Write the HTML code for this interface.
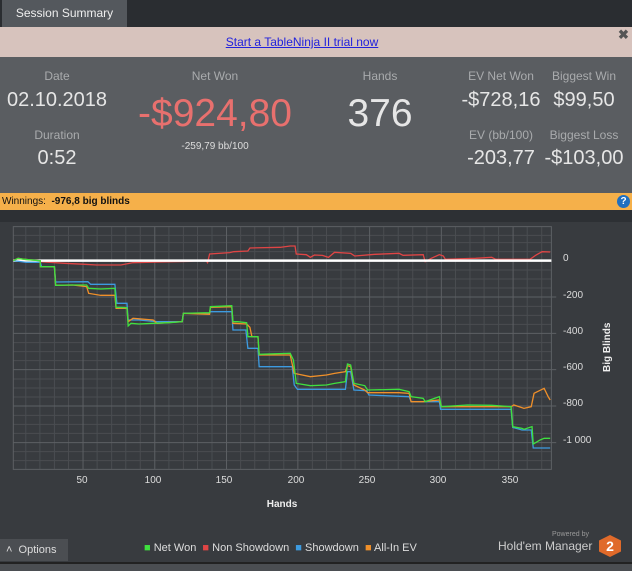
<!DOCTYPE html>
<html><head><meta charset="utf-8"><style>
*{margin:0;padding:0;box-sizing:border-box}
body{width:632px;height:571px;overflow:hidden;background:#383b3f;font-family:"Liberation Sans",sans-serif;position:relative}
.a{position:absolute;white-space:nowrap}
.c{transform:translateX(-50%)}
.lab{color:#a9abad;font-size:12px}
.val{color:#e6e6e6;font-size:20px}
</style></head><body>
<div class="a" style="left:0;top:0;width:632px;height:27px;background:#2a2d31"></div>
<div class="a" style="left:2px;top:0;width:125px;height:27px;background:#54585d;color:#eee;font-size:12px;line-height:26px;text-align:center">Session Summary</div>
<div class="a" style="left:0;top:27px;width:632px;height:30px;background:#d7c3bd"></div>
<div class="a c" style="left:302px;top:35px;color:#2222dd;font-size:12px;text-decoration:underline">Start a TableNinja II trial now</div>
<div class="a" style="left:618px;top:27px;color:#555;font-size:13px;font-weight:bold">✖</div>
<div class="a" style="left:0;top:57px;width:632px;height:136px;background:#5a5d61"></div>
<div class="a c lab" style="left:57px;top:69px">Date</div>
<div class="a c val" style="left:57px;top:89px">02.10.2018</div>
<div class="a c lab" style="left:57px;top:128px">Duration</div>
<div class="a c val" style="left:57px;top:147px">0:52</div>
<div class="a c lab" style="left:215px;top:69px">Net Won</div>
<div class="a c" style="left:215px;top:92px;color:#e8706e;font-size:39px">-$924,80</div>
<div class="a c" style="left:215px;top:141px;color:#ddd;font-size:10px">-259,79 bb/100</div>
<div class="a c lab" style="left:380px;top:69px">Hands</div>
<div class="a c" style="left:380px;top:92px;color:#e6e6e6;font-size:39px">376</div>
<div class="a c lab" style="left:501px;top:69px">EV Net Won</div>
<div class="a c val" style="left:501px;top:89px">-$728,16</div>
<div class="a c lab" style="left:501px;top:128px">EV (bb/100)</div>
<div class="a c val" style="left:501px;top:147px">-203,77</div>
<div class="a c lab" style="left:584px;top:69px">Biggest Win</div>
<div class="a c val" style="left:584px;top:89px">$99,50</div>
<div class="a c lab" style="left:584px;top:128px">Biggest Loss</div>
<div class="a c val" style="left:584px;top:147px">-$103,00</div>
<div class="a" style="left:0;top:193px;width:632px;height:17px;background:#f5b04a;font-size:10px;line-height:17px;padding-left:2px;color:#111">Winnings: &nbsp;<b>-976,8 big blinds</b></div>
<div class="a" style="left:617px;top:195px;width:13px;height:13px;border-radius:50%;background:#1f6fc0;color:#fff;font-size:10px;font-weight:bold;text-align:center;line-height:13px">?</div>
<div class="a" style="left:0;top:210px;width:632px;height:12px;background:#2d3034"></div>
<svg class="a" style="left:0;top:220px" width="632" height="351" viewBox="0 0 1568 1053" preserveAspectRatio="none">
<g stroke="#4a4d51" stroke-width="1" vector-effect="non-scaling-stroke">
<path vector-effect="non-scaling-stroke" d="M64 20V748M99 20V748M135 20V748M170 20V748M241 20V748M277 20V748M312 20V748M348 20V748M419 20V748M455 20V748M490 20V748M526 20V748M597 20V748M632 20V748M668 20V748M704 20V748M775 20V748M810 20V748M846 20V748M881 20V748M952 20V748M988 20V748M1024 20V748M1059 20V748M1130 20V748M1166 20V748M1201 20V748M1237 20V748M1308 20V748M1344 20V748"/>
<path vector-effect="non-scaling-stroke" d="M33 46H1368M33 68H1368M33 95H1368M33 150H1368M33 177H1368M33 204H1368M33 259H1368M33 286H1368M33 313H1368M33 368H1368M33 395H1368M33 422H1368M33 477H1368M33 504H1368M33 531H1368M33 586H1368M33 613H1368M33 640H1368M33 695H1368M33 722H1368"/>
</g>
<g stroke="#5d6064" fill="none">
<path vector-effect="non-scaling-stroke" d="M206 20V748M384 20V748M562 20V748M739 20V748M917 20V748M1095 20V748M1273 20V748M33 231H1380M33 340H1380M33 449H1380M33 558H1380M33 668H1380"/>
<rect vector-effect="non-scaling-stroke" x="33" y="20" width="1335" height="728"/>
</g>
<g fill="none" stroke-width="1.3">
<polyline vector-effect="non-scaling-stroke" stroke="#e04545" points="33,120 60,118 100,125 160,130 210,133 240,135 300,135 330,128 400,126 470,124 510,120 515,128 520,102 570,98 580,95 615,93 620,84 695,82 720,78 732,78 735,102 760,104 770,112 780,105 800,106 815,112 830,97 870,100 880,108 930,103 990,100 1000,106 1050,104 1055,125 1070,115 1090,104 1100,108 1105,118 1180,115 1220,112 1230,118 1315,118 1330,105 1345,95 1365,96"/>
</g>
<line x1="33" y1="122" x2="1368" y2="122" stroke="#fff" stroke-width="2.5" vector-effect="non-scaling-stroke"/>
<g fill="none" stroke-width="1.3">
<polyline vector-effect="non-scaling-stroke" stroke="#3d9be0" points="33,122 65,127 100,127 103,140 135,140 138,186 218,185 225,193 285,193 290,250 315,250 318,300 345,300 390,305 452,305 455,280 520,280 522,275 575,275 578,330 610,330 615,385 640,385 643,440 725,440 730,495 738,508 857,508 862,455 870,455 878,510 910,512 915,525 1015,530 1020,545 1090,545 1093,568 1268,568 1272,622 1295,630 1318,630 1323,684 1365,684"/>
<polyline vector-effect="non-scaling-stroke" stroke="#f0902a" points="33,122 45,115 60,118 100,122 100,140 135,140 138,196 180,195 215,200 220,220 250,226 285,226 288,265 315,265 318,305 330,295 380,300 390,310 452,305 455,280 520,283 522,262 575,260 578,310 612,312 620,322 625,350 640,350 643,405 720,405 730,460 770,470 810,465 830,460 857,455 862,437 870,440 878,495 905,510 912,518 990,518 1015,520 1020,545 1050,545 1090,540 1095,560 1268,560 1275,555 1300,565 1318,560 1325,520 1350,505 1360,530 1365,540"/>
<polyline vector-effect="non-scaling-stroke" stroke="#3fe03f" points="33,122 45,115 60,118 100,122 100,140 135,140 138,196 180,195 215,195 220,205 250,207 285,205 288,262 315,263 318,318 325,310 345,312 380,310 420,308 452,305 455,280 520,278 522,260 575,257 578,305 590,305 612,308 615,350 640,350 643,403 720,400 728,420 735,490 770,497 810,495 830,490 857,485 862,432 870,435 878,490 905,497 912,510 990,508 1015,515 1020,530 1050,535 1055,545 1090,530 1095,560 1160,555 1220,556 1268,560 1272,620 1295,625 1300,628 1320,620 1323,672 1340,660 1350,655 1365,655"/>
</g>
</svg>
<div class="a" style="left:563px;top:253px;color:#ddd;font-size:10px">0</div>
<div class="a" style="left:563px;top:290px;color:#ddd;font-size:10px">-200</div>
<div class="a" style="left:563px;top:326px;color:#ddd;font-size:10px">-400</div>
<div class="a" style="left:563px;top:362px;color:#ddd;font-size:10px">-600</div>
<div class="a" style="left:563px;top:398px;color:#ddd;font-size:10px">-800</div>
<div class="a" style="left:563px;top:435px;color:#ddd;font-size:10px">-1 000</div>
<div class="a" style="left:602px;top:372px;color:#eee;font-size:10px;font-weight:bold;transform:rotate(-90deg);transform-origin:0 0">Big Blinds</div>
<div class="a c" style="left:82px;top:475px;color:#ddd;font-size:10px">50</div>
<div class="a c" style="left:153px;top:475px;color:#ddd;font-size:10px">100</div>
<div class="a c" style="left:224px;top:475px;color:#ddd;font-size:10px">150</div>
<div class="a c" style="left:296px;top:475px;color:#ddd;font-size:10px">200</div>
<div class="a c" style="left:367px;top:475px;color:#ddd;font-size:10px">250</div>
<div class="a c" style="left:438px;top:475px;color:#ddd;font-size:10px">300</div>
<div class="a c" style="left:510px;top:475px;color:#ddd;font-size:10px">350</div>
<div class="a c" style="left:282px;top:499px;color:#eee;font-size:10px;font-weight:bold">Hands</div>
<div class="a" style="left:0;top:539px;width:68px;height:22px;background:#4b4e52;color:#ddd;font-size:11px;line-height:22px;padding-left:6px">˄ &nbsp;Options</div>
<div class="a" style="left:144px;top:542px;color:#ddd;font-size:11px"><span style="color:#3fe03f">■</span> Net Won &nbsp;<span style="color:#e04545">■</span> Non Showdown &nbsp;<span style="color:#3d9be0">■</span> Showdown &nbsp;<span style="color:#f0902a">■</span> All-In EV</div>
<div class="a" style="left:552px;top:531px;color:#999;font-size:7px">Powered by</div>
<div class="a" style="left:498px;top:539px;color:#ccc;font-size:12px">Hold'em Manager</div>
<div class="a" style="left:599px;top:535px;width:22px;height:22px;background:#e06a2a;clip-path:polygon(50% 0,100% 25%,100% 75%,50% 100%,0 75%,0 25%);color:#fff;font-weight:bold;font-size:14px;text-align:center;line-height:22px">2</div>
<div class="a" style="left:0;top:562px;width:632px;height:2px;background:#222"></div>
<div class="a" style="left:0;top:564px;width:632px;height:7px;background:#4b4e52"></div>
</body></html>
